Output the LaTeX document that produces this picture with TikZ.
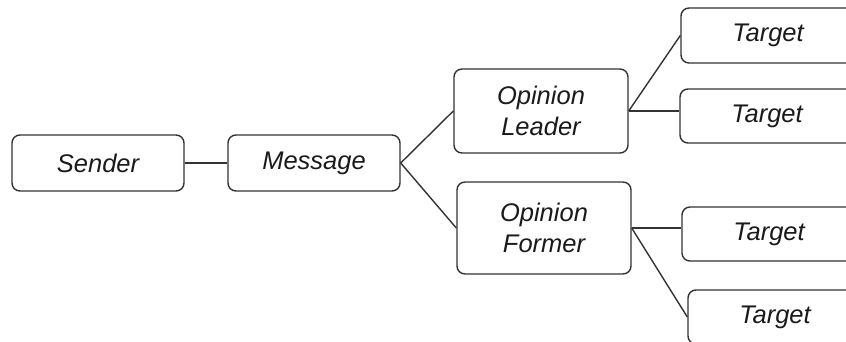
\documentclass[tikz,border=0pt]{standalone}
\usepackage{fontspec}
\setmainfont{Liberation Sans}
\definecolor{edge}{HTML}{333333}
\definecolor{txt}{HTML}{1A1A1A}
\begin{document}
\begin{tikzpicture}[x=1pt,y=-1pt,
  box/.style={draw=edge, line width=1.4pt, rounded corners=8pt, fill=white,
    text=txt, align=center, inner sep=0pt,
    font=\itshape\fontsize{25.5}{30.6}\selectfont},
  link/.style={draw=edge, line width=1.4pt}]
\clip (0,0) rectangle (846,342);
\fill[white] (0,0) rectangle (846,342);
\node[box, minimum width=172pt, minimum height=56pt] (S) at (98,163) {Sender};
\node[box, minimum width=172pt, minimum height=56pt] (M) at (314,163) {Message};
\node[box, minimum width=174pt, minimum height=84pt] (OL) at (541,111) {Opinion\\Leader};
\node[box, minimum width=174pt, minimum height=92pt] (OF) at (544,228) {Opinion\\Former};
\node[box, minimum width=174pt, minimum height=55pt] (T1) at (768,35.5) {Target};
\node[box, minimum width=174pt, minimum height=54pt] (T2) at (767,116) {Target};
\node[box, minimum width=174pt, minimum height=54pt] (T3) at (769,234) {Target};
\node[box, minimum width=174pt, minimum height=54pt] (T4) at (775,317) {Target};
\draw[link] (S.east) -- (M.west);
\draw[link] (M.east) -- (OL.west);
\draw[link] (M.east) -- (OF.west);
\draw[link] (OL.east) -- (T1.west);
\draw[link] (OL.east) -- (OL.east -| T2.west);
\draw[link] (OF.east) -- (OF.east -| T3.west);
\draw[link] (OF.east) -- (T4.west);
\end{tikzpicture}
\end{document}
